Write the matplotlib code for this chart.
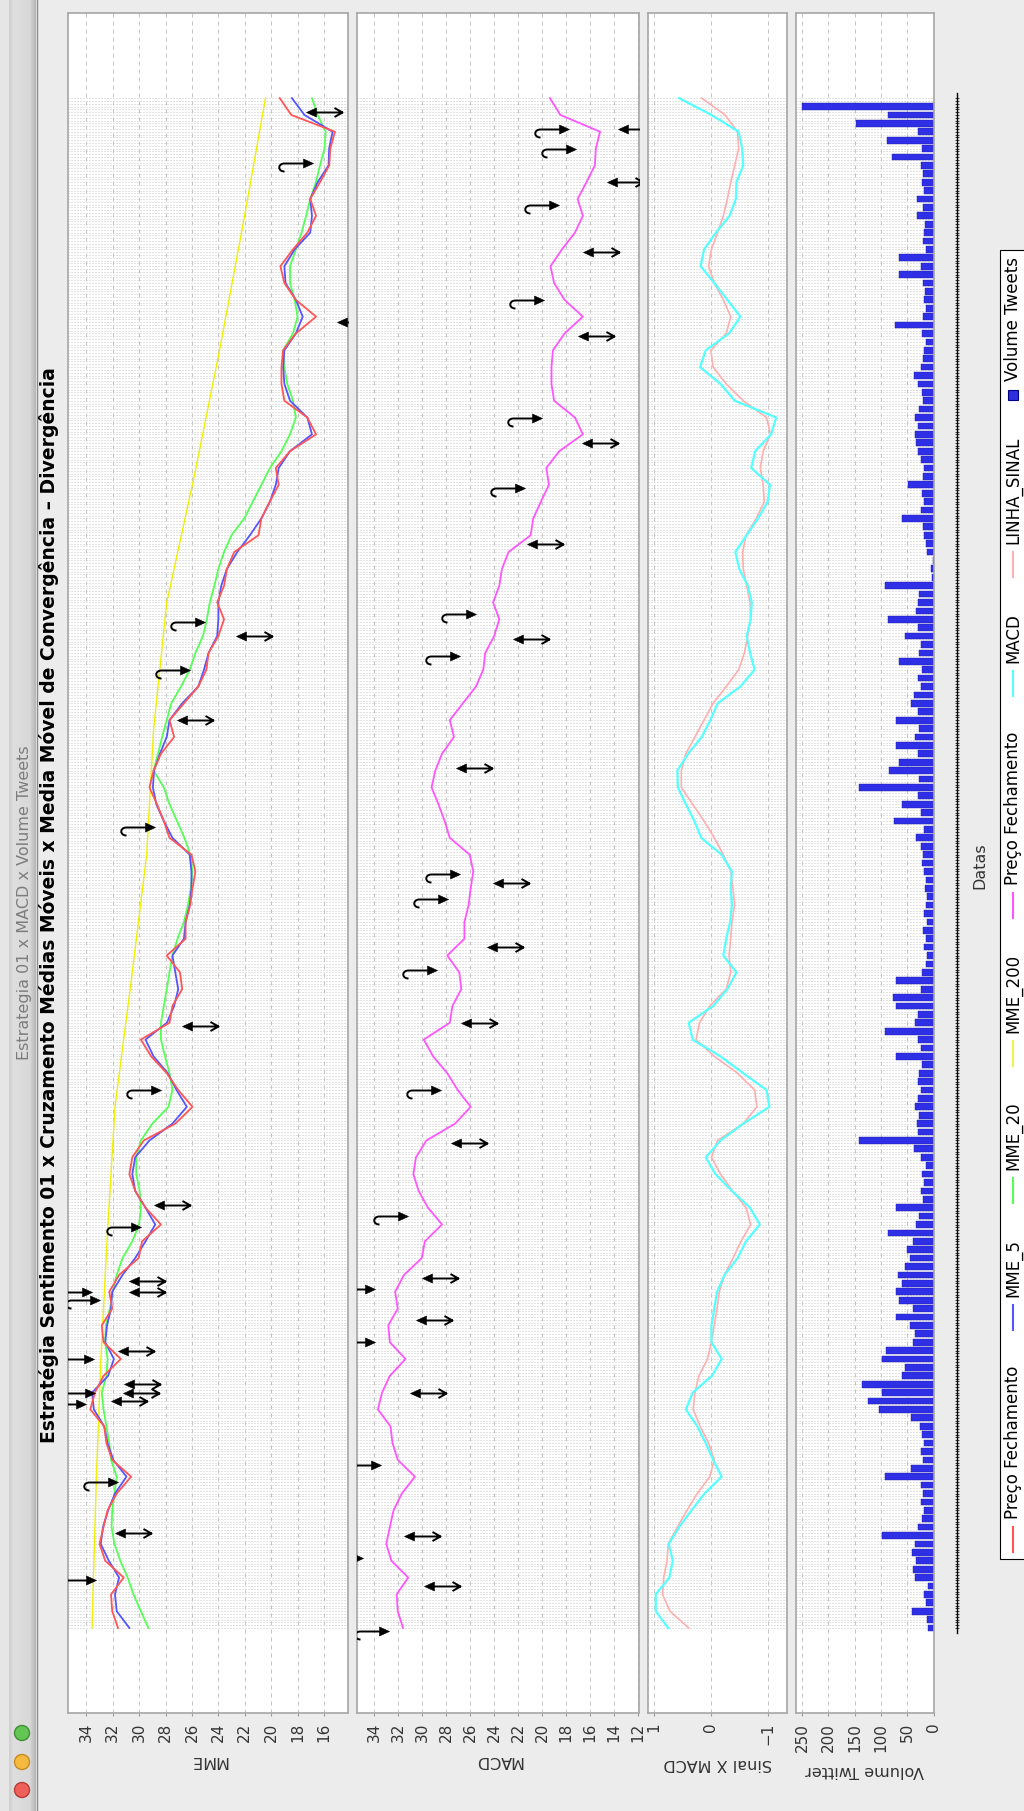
import numpy as np
import matplotlib
matplotlib.use('Agg')
import matplotlib.pyplot as plt
from matplotlib.path import Path
from matplotlib.markers import MarkerStyle
from matplotlib.patches import Rectangle, Circle
from matplotlib.lines import Line2D

W, H = 1024, 1811
plt.rcParams['font.family'] = ['DejaVu Sans']

# ---------------------------------------------------------------- dados
# eixo de datas: indice do pregao (0 = mais antigo)
n_dias = 547
dias = list(range(0, n_dias, 6))

fechamento = [31.60, 32.04, 32.13, 31.17, 32.57, 33.00, 32.70, 32.39, 31.70, 30.61,
              32.04, 32.48, 32.65, 33.70, 33.35, 32.70, 31.39, 32.70, 32.83, 32.04,
              32.26, 31.52, 30.04, 29.78, 28.35, 29.52, 30.30, 30.74, 30.52, 29.65,
              27.26, 25.96, 27.04, 27.91, 29.09, 29.87, 27.70, 27.48, 26.74, 26.91,
              27.91, 26.48, 26.48, 26.13, 25.96, 25.74, 26.04, 27.70, 28.13, 28.65,
              29.22, 28.91, 28.35, 27.35, 27.70, 26.61, 25.52, 24.91, 24.74, 24.00,
              23.57, 24.09, 23.57, 23.35, 22.80, 20.96, 20.74, 20.10, 19.43, 19.65,
              18.57, 16.60, 17.26, 19.00, 19.22, 19.22, 19.10, 18.13, 16.60, 18.13,
              19.00, 19.30, 18.35, 17.26, 16.60, 17.04, 16.30, 15.60, 15.52, 15.17,
              18.48, 19.35]

mme_5 = [30.74, 31.70, 31.83, 31.52, 32.30, 32.91, 32.74, 32.35, 31.83, 30.96,
         31.96, 32.39, 32.65, 33.43, 33.57, 32.35, 31.91, 32.57, 32.43, 32.13,
         32.04, 31.26, 30.30, 29.52, 28.78, 29.52, 30.30, 30.52, 30.30, 29.22,
         27.48, 26.39, 27.17, 27.83, 28.91, 29.52, 27.90, 27.35, 27.04, 27.26,
         27.48, 26.61, 26.48, 26.17, 26.04, 26.04, 26.17, 27.48, 28.13, 28.70,
         28.96, 28.87, 28.43, 27.91, 27.70, 26.74, 25.52, 25.09, 24.74, 24.09,
         24.00, 24.00, 23.78, 23.35, 22.57, 21.61, 20.74, 20.09, 19.65, 19.43,
         18.57, 16.91, 17.26, 18.57, 19.00, 19.09, 19.00, 18.13, 17.61, 18.13,
         18.91, 19.00, 18.22, 17.04, 16.91, 17.04, 16.48, 15.65, 15.61, 15.35,
         17.48, 18.43]

mme_20 = [29.30, 29.87, 30.43, 30.87, 31.43, 31.87, 32.09, 32.04, 31.87, 31.70,
          32.13, 32.26, 32.48, 32.70, 32.83, 32.48, 32.39, 32.57, 32.52, 32.22,
          32.00, 31.70, 31.26, 30.52, 30.00, 29.87, 29.96, 30.22, 30.22, 29.87,
          29.00, 27.78, 27.48, 27.70, 28.04, 28.35, 28.35, 28.13, 27.91, 27.70,
          27.48, 27.09, 26.61, 26.30, 26.09, 25.96, 26.13, 26.57, 27.13, 27.70,
          28.13, 28.91, 28.57, 28.26, 27.91, 27.57, 26.83, 26.17, 25.74, 25.17,
          24.87, 24.65, 24.30, 24.00, 23.57, 23.00, 22.04, 21.39, 20.74, 20.09,
          19.22, 18.57, 18.13, 18.35, 18.78, 19.00, 19.09, 18.35, 18.00, 18.22,
          18.57, 18.57, 18.13, 17.70, 17.35, 17.04, 16.61, 16.30, 15.96, 15.87,
          16.48, 16.91]

dias_mme_200 = [0, 51, 96, 141, 186, 231, 276, 321, 366, 411, 456, 501, 546]
mme_200 = [33.57, 33.26, 32.90, 32.40, 31.83, 30.60, 29.43, 28.90, 27.91, 25.83,
           23.91, 22.13, 20.43]

macd = [0.75, 0.97, 0.97, 0.73, 0.67, 0.74, 0.56, 0.34, 0.11, -0.19,
        -0.04, 0.09, 0.24, 0.44, 0.32, -0.02, -0.19, -0.01, -0.01, -0.06,
        -0.11, -0.24, -0.47, -0.62, -0.86, -0.69, -0.37, -0.08, 0.09, -0.17,
        -0.57, -1.03, -0.98, -0.57, -0.17, 0.32, 0.39, -0.04, -0.29, -0.45,
        -0.22, -0.27, -0.34, -0.37, -0.35, -0.37, -0.19, 0.17, 0.29, 0.44,
        0.58, 0.59, 0.40, 0.16, 0.01, -0.12, -0.52, -0.77, -0.69, -0.63,
        -0.70, -0.72, -0.65, -0.50, -0.43, -0.63, -0.83, -1.00, -1.04, -0.71,
        -0.78, -1.06, -1.15, -0.42, -0.17, 0.19, 0.09, -0.32, -0.52, -0.29,
        -0.06, 0.18, 0.12, -0.09, -0.33, -0.44, -0.45, -0.57, -0.55, -0.49,
        -0.01, 0.56]

linha_sinal = [0.39, 0.72, 0.85, 0.83, 0.77, 0.75, 0.59, 0.42, 0.24, 0.02,
               -0.06, 0.04, 0.19, 0.31, 0.28, 0.21, 0.06, -0.01, -0.06, -0.11,
               -0.15, -0.24, -0.39, -0.53, -0.70, -0.62, -0.38, -0.17, -0.01, -0.12,
               -0.57, -0.81, -0.77, -0.47, -0.06, 0.26, 0.20, 0.02, -0.27, -0.35,
               -0.32, -0.35, -0.37, -0.42, -0.39, -0.35, -0.22, -0.06, 0.12, 0.32,
               0.52, 0.52, 0.44, 0.28, 0.12, -0.04, -0.27, -0.49, -0.59, -0.65,
               -0.70, -0.69, -0.63, -0.57, -0.56, -0.62, -0.80, -0.94, -0.92, -0.87,
               -0.92, -1.05, -0.98, -0.57, -0.27, -0.04, 0.00, -0.27, -0.35, -0.22,
               -0.06, 0.04, -0.01, -0.12, -0.22, -0.29, -0.35, -0.42, -0.49, -0.47,
               -0.25, 0.16]

dias_volume = list(range(0, 546, 3))
volume = [11, 12, 41, 15, 18, 10, 36, 40, 33, 42,
          35, 98, 30, 22, 18, 25, 20, 24, 92, 43,
          20, 25, 18, 22, 26, 43, 103, 125, 98, 136,
          60, 55, 98, 90, 40, 35, 45, 71, 40, 65,
          72, 60, 68, 55, 45, 50, 40, 87, 33, 28,
          71, 20, 25, 18, 22, 15, 25, 38, 141, 30,
          32, 28, 35, 30, 25, 30, 28, 22, 71, 25,
          30, 92, 35, 30, 71, 78, 25, 71, 22, 15,
          12, 18, 15, 20, 12, 18, 15, 12, 16, 14,
          18, 22, 20, 25, 33, 18, 76, 25, 60, 30,
          141, 28, 85, 65, 30, 71, 35, 28, 71, 30,
          43, 38, 25, 30, 22, 65, 28, 25, 54, 30,
          87, 33, 30, 28, 92, 3, 5, 2, 12, 15,
          18, 20, 60, 25, 18, 22, 49, 20, 18, 25,
          30, 34, 36, 30, 35, 28, 20, 22, 30, 38,
          25, 20, 18, 15, 22, 74, 20, 15, 18, 16,
          20, 66, 25, 66, 15, 20, 18, 16, 32, 20,
          32, 18, 22, 20, 25, 80, 22, 88, 30, 148,
          87, 250]

# sinais de compra/venda: (dia, valor na ponta da seta)
sinais_mme_dupla = [(541, 17.39), (466, 15.00), (354, 22.70), (324, 27.13), (215, 26.74),
                    (151, 28.91), (124, 30.74), (120, 30.74), (99, 31.60), (87, 31.17),
                    (84, 31.26), (81, 32.13), (34, 31.83)]
sinais_mme_gancho = [(523, 16.83), (359, 25.00), (342, 26.17), (286, 28.78), (192, 28.35),
                     (143, 29.87), (120, 33.57), (117, 33.00), (96, 33.43), (84, 33.35),
                     (80, 34.00), (52, 31.60), (17, 33.26)]
sinais_macd_dupla = [(535, 13.71), (516, 14.57), (491, 16.58), (461, 16.97), (423, 16.68),
                     (387, 21.27), (353, 22.47), (307, 27.21), (266, 24.10), (243, 24.62),
                     (216, 26.73), (173, 27.59), (125, 29.98), (110, 30.56), (84, 31.00),
                     (33, 31.51), (15, 29.84)]
sinais_macd_gancho = [(535, 17.78), (528, 17.16), (508, 18.59), (474, 19.84), (432, 20.03),
                      (407, 21.46), (362, 25.53), (347, 26.87), (269, 26.87), (260, 27.83),
                      (235, 28.78), (192, 28.40), (147, 31.18), (121, 33.95), (102, 33.95),
                      (58, 33.47), (25, 34.90), (-1, 32.76)]

itens_legenda = [('Preço Fechamento', '#ff5555', 'linha'),
                 ('MME_5', '#5555ff', 'linha'),
                 ('MME_20', '#55ff55', 'linha'),
                 ('MME_200', '#f0f050', 'linha'),
                 ('Preço Fechamento', '#ff55ff', 'linha'),
                 ('MACD', '#55ffff', 'linha'),
                 ('LINHA_SINAL', '#ffafaf', 'linha'),
                 ('Volume Tweets', '#2f2fe0', 'barra')]

# ---------------------------------------------------------------- layout (pixels)
PX_DIA = 2.802
Y_DIA0 = 1628


def rect(x0, y0, x1, y1):
    return [x0 / W, 1 - y1 / H, (x1 - x0) / W, (y1 - y0) / H]


def dia_em(y):
    return (Y_DIA0 - y) / PX_DIA


fig = plt.figure(figsize=(W / 100, H / 100), dpi=100, facecolor='#ececec')

# barra de titulo da janela
ax_bg = fig.add_axes([0, 0, 1, 1], zorder=-1)
ax_bg.axis('off')
xs = np.linspace(8, 36, 56)
tons = np.interp(xs, [8, 13, 30, 35.5], [0.78, 0.87, 0.85, 0.72])
ax_bg.imshow(np.repeat(tons[None, :, None], 3, axis=2), extent=(8, 36, H, 0),
             aspect='auto', interpolation='bilinear')
ax_bg.add_patch(Rectangle((0, 0), 8, H, color='#e6e6e6'))
ax_bg.add_line(Line2D([36.5, 36.5], [0, H], color='#8c8c8c', lw=1))
ax_bg.set_xlim(0, W)
ax_bg.set_ylim(H, 0)

paineis = [
    (68, 348, (35.39, 14.18), list(range(34, 15, -2)), 'MME'),
    (357, 639, (35.44, 11.92), list(range(34, 11, -2)), 'MACD'),
    (648, 787, (1.106, -1.34), [1, 0, -1], 'Sinal X MACD'),
    (796, 934, (261.4, -0.6), list(range(250, -1, -50)), 'Volume Twitter'),
]
axs = []
for x0, x1, lim, ticks, rotulo in paineis:
    ax = fig.add_axes(rect(x0, 13, x1, 1713))
    ax.set_xlim(*lim)
    ax.set_ylim(dia_em(1713), dia_em(13))
    ax.set_xticks(ticks)
    ax.set_yticks([])
    ax.set_yticks(np.arange(n_dias), minor=True)
    ax.grid(True, which='minor', axis='y', color='#c6c6c6', lw=0.72, ls=(0, (1, 2)))
    ax.grid(True, which='major', axis='x', color='#c4c4c4', lw=0.72, ls=(0, (4, 4)))
    ax.set_axisbelow(True)
    ax.tick_params(axis='y', which='both', length=0, left=False, labelleft=False)
    ax.tick_params(axis='x', which='major', length=2, width=0.8, color='#999999',
                   labelsize=11, labelrotation=90, pad=5, labelcolor='#333333')
    ax.set_xlabel(rotulo, rotation=180, fontsize=11.5, labelpad=8, color='#333333')
    for s in ax.spines.values():
        s.set_color('#a6a6a6')
        s.set_linewidth(1.2)
    axs.append(ax)
ax1, ax2, ax3, ax4 = axs

ax1.plot(mme_200, dias_mme_200, color='#f0f000', lw=1.0)
ax1.plot(mme_20, dias, color='#55ff55', lw=1.3)
ax1.plot(mme_5, dias, color='#5555ff', lw=1.3)
ax1.plot(fechamento, dias, color='#ff5555', lw=1.3)

ax2.plot(fechamento, dias, color='#ff55ff', lw=1.3)

ax3.plot(linha_sinal, dias, color='#ffafaf', lw=1.2)
ax3.plot(macd, dias, color='#55ffff', lw=1.6)

ax4.barh(dias_volume, volume, height=2.4, color='#2f2fe6', edgecolor='#1c1ca8', lw=0.3)

# setas dos sinais (ponta no ponto do sinal)
M, L, C4, CL = Path.MOVETO, Path.LINETO, Path.CURVE4, Path.CLOSEPOLY
dupla_cabeca = Path([(36, 0), (0, 0), (10, 4.5), (10, -4.5), (0, 0)], [M, M, L, L, CL])
dupla_traco = Path([(8, 0), (36, 0), (28, 4.5), (36, 0), (28, -4.5)], [M, L, M, L, L])
gancho_cabeca = Path([(-36, 0), (0, 0), (-10, 4.5), (-10, -4.5), (0, 0)], [M, M, L, L, CL])
gancho_traco = Path([(-8, 0), (-29, 0), (-36, 0), (-36, -8), (-29, -8)], [M, L, C4, C4, C4])
TAM = 2 * 36 * 72 / 100


def setas(ax, sinais, cabeca, traco):
    d = [s[0] for s in sinais]
    v = [s[1] for s in sinais]
    ax.plot(v, d, ls='none', marker=MarkerStyle(traco), ms=TAM, mfc='none',
            mec='black', mew=1.4, zorder=5)
    ax.plot(v, d, ls='none', marker=MarkerStyle(cabeca), ms=TAM, mfc='black',
            mec='black', mew=0.4, zorder=5)


setas(ax1, sinais_mme_dupla, dupla_cabeca, dupla_traco)
setas(ax1, sinais_mme_gancho, gancho_cabeca, gancho_traco)
setas(ax2, sinais_macd_dupla, dupla_cabeca, dupla_traco)
setas(ax2, sinais_macd_gancho, gancho_cabeca, gancho_traco)

# eixo de datas compartilhado
axd = fig.add_axes(rect(957, 93, 960, 1633))
axd.patch.set_visible(False)
axd.set_ylim(dia_em(1633), dia_em(93))
for lado in ('top', 'right', 'bottom'):
    axd.spines[lado].set_visible(False)
axd.spines['left'].set_color('black')
axd.spines['left'].set_linewidth(1.0)
axd.set_xticks([])
axd.set_yticks(np.arange(n_dias))
axd.tick_params(axis='y', direction='inout', length=3, width=0.5, color='black',
                labelleft=False)
fig.text(980 / W, 1 - 866 / H, 'Datas', rotation=90, ha='center', va='center',
         fontsize=11.5, color='#333333')

fig.text(49 / W, 1 - 905 / H,
         'Estratégia Sentimento 01 x Cruzamento Médias Móveis x Media Móvel de '
         'Convergência – Divergência',
         rotation=90, ha='center', va='center', fontsize=13.5, fontweight='bold')
fig.text(25 / W, 1 - 903 / H, 'Estrategia 01 x MACD x Volume Tweets', rotation=90,
         ha='center', va='center', fontsize=11.5, color='#7c7c7c')

# camada superior: botoes da janela e legenda
ax_top = fig.add_axes([0, 0, 1, 1], zorder=10)
ax_top.axis('off')
ax_top.set_xlim(0, W)
ax_top.set_ylim(H, 0)
for yb, cf, ce in [(1733, '#62c554', '#3f8f33'), (1762, '#f5b940', '#c68b22'),
                   (1790, '#f0605a', '#b63c35')]:
    ax_top.add_patch(Circle((22, yb), 7.5, fc=cf, ec=ce, lw=1))

# legenda: caixa de 250 a 1559 px, itens espalhados por igual
renderer = fig.canvas.get_renderer()
xl = 1013
leg_base, leg_topo = 1559, 250
textos = []
for nome, cor, tipo in itens_legenda:
    t = ax_top.text(xl, 0, nome, rotation=90, ha='center', va='bottom', fontsize=12,
                    color='black', zorder=3)
    textos.append(t)
comp = [t.get_window_extent(renderer).height for t in textos]
simb = [25 if tipo == 'linha' else 12 for _, _, tipo in itens_legenda]
g1, pad = 8, 7
g2 = ((leg_base - leg_topo) - 2 * pad - sum(comp) - sum(simb) - g1 * len(comp)) \
    / (len(comp) - 1)
y = leg_base - pad
for (nome, cor, tipo), t, c, s in zip(itens_legenda, textos, comp, simb):
    if tipo == 'linha':
        ax_top.add_line(Line2D([xl, xl], [y, y - s], color=cor, lw=1.5, zorder=3))
    else:
        ax_top.add_patch(Rectangle((xl - 5, y - 11), 10, 10, fc=cor, ec='#000080',
                                   lw=0.8, zorder=3))
    y -= s + g1
    t.set_y(y)
    y -= c + g2
ax_top.add_patch(Rectangle((1000, leg_topo), 60, leg_base - leg_topo, fc='white',
                           ec='black', lw=0.8, zorder=2))

fig.savefig('out.png', dpi=100, facecolor=fig.get_facecolor())
